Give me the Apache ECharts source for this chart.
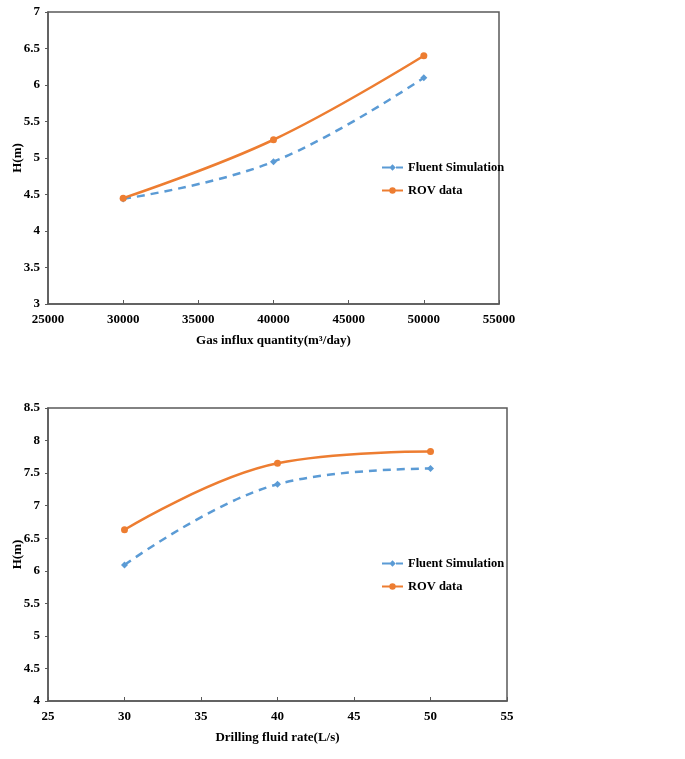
<!DOCTYPE html>
<html>
<head>
<meta charset="utf-8">
<script src="https://cdn.jsdelivr.net/npm/echarts@6/dist/echarts.min.js"></script>
<style>
html,body{margin:0;padding:0;background:#fff;}
#c{width:685px;height:759px;}
</style>
</head>
<body>
<div id="c"></div>
<script>
// Top chart data
var gasX = [30000, 40000, 50000];
var gasFluent = [4.44, 4.95, 6.10];
var gasROV = [4.45, 5.25, 6.40];
// Bottom chart data
var rateX = [30, 40, 50];
var rateFluent = [6.09, 7.33, 7.57];
var rateROV = [6.63, 7.65, 7.83];

var names = ['Fluent Simulation', 'ROV data'];
var BLUE = '#5B9BD5', ORANGE = '#ED7D31';
var FONT = '"Liberation Serif","Times New Roman",serif';
var AXC = '#595959';

function pairs(xs, ys){ return xs.map(function(x,i){ return [x, ys[i]]; }); }

function xAxis(idx, min, max, interval, name){
  return {
    type:'value', gridIndex: idx, min:min, max:max, interval:interval,
    name:name, nameLocation:'middle', nameGap:30,
    nameTextStyle:{fontFamily:FONT, fontWeight:'bold', fontSize:13, color:'#000'},
    axisLine:{show:true, lineStyle:{color:AXC, width:1.5}},
    axisTick:{show:true, inside:true, length:4, lineStyle:{color:AXC}},
    axisLabel:{fontFamily:FONT, fontWeight:'bold', fontSize:13, color:'#000', margin:9,
      formatter:function(v){ return String(v); }},
    splitLine:{show:false}
  };
}
function yAxis(idx, min, max, interval){
  return {
    type:'value', gridIndex: idx, min:min, max:max, interval:interval,
    name:'H(m)', nameLocation:'middle', nameGap:24, nameRotate:90, nameMoveOverlap:false,
    nameTextStyle:{fontFamily:FONT, fontWeight:'bold', fontSize:13, color:'#000'},
    axisLine:{show:true, lineStyle:{color:AXC, width:1.5}},
    axisTick:{show:true, inside:false, length:3, lineStyle:{color:AXC}},
    axisLabel:{fontFamily:FONT, fontWeight:'bold', fontSize:13, color:'#000', margin:8,
      formatter:function(v){ return String(v); }},
    splitLine:{show:false}
  };
}
function fluent(idx, data){
  return {
    name:names[0], type:'line', xAxisIndex:idx, yAxisIndex:idx, data:data,
    smooth:0.4, symbol:'diamond', symbolSize:7,
    lineStyle:{color:BLUE, width:2.5, type:[8,6]},
    itemStyle:{color:BLUE}
  };
}
function rov(idx, data){
  return {
    name:names[1], type:'line', xAxisIndex:idx, yAxisIndex:idx, data:data,
    smooth:0.4, symbol:'circle', symbolSize:7,
    lineStyle:{color:ORANGE, width:2.5},
    itemStyle:{color:ORANGE}
  };
}
function legend(top){
  return {
    data:names, orient:'vertical', left:376, top:top, itemWidth:21, itemHeight:8, itemGap:10,
    selectedMode:false,
    textStyle:{fontFamily:FONT, fontWeight:'bold', fontSize:12.5, color:'#000'}
  };
}

var chart = echarts.init(document.getElementById('c'), null, {renderer:'canvas'});
chart.setOption({
  animation:false,
  backgroundColor:'#fff',
  grid:[
    {left:48, right:186, top:12, height:292, show:true, borderColor:AXC, borderWidth:1.5,
     containLabel:false, outerBoundsMode:'none'},
    {left:48, right:178, top:408, height:293, show:true, borderColor:AXC, borderWidth:1.5,
     containLabel:false, outerBoundsMode:'none'}
  ],
  legend:[legend(156), legend(552)],
  xAxis:[
    xAxis(0, 25000, 55000, 5000, 'Gas influx quantity(m³/day)'),
    xAxis(1, 25, 55, 5, 'Drilling fluid rate(L/s)')
  ],
  yAxis:[ yAxis(0, 3, 7, 0.5), yAxis(1, 4, 8.5, 0.5) ],
  series:[
    fluent(0, pairs(gasX, gasFluent)),
    rov(0, pairs(gasX, gasROV)),
    fluent(1, pairs(rateX, rateFluent)),
    rov(1, pairs(rateX, rateROV))
  ]
});
</script>
</body>
</html>
